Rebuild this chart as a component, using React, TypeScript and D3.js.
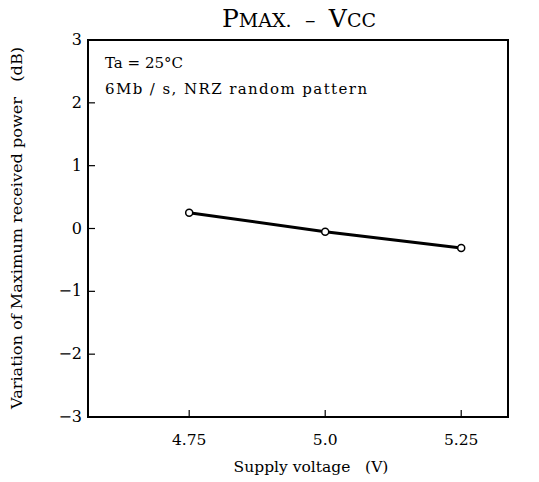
import React from "react";
import * as d3 from "d3";

const voltages = [4.75, 5.0, 5.25];
const powerVariation = [0.25, -0.05, -0.31];
const xTicks = [4.75, 5.0, 5.25];
const xTickLabels = ["4.75", "5.0", "5.25"];
const yTicks = [-3, -2, -1, 0, 1, 2, 3];

const W = 539;
const H = 482;
const M = { left: 88, right: 508, top: 40, bottom: 417 };
const FONT = "'DejaVu Serif', serif";

export default function App() {
  const x = d3.scaleLinear().domain([4.564, 5.336]).range([M.left, M.right]);
  const y = d3.scaleLinear().domain([-3, 3]).range([M.bottom, M.top]);
  const pts = voltages.map((v, i) => [x(v), y(powerVariation[i])] as [number, number]);
  const line = d3.line().curve(d3.curveMonotoneX)(pts) || "";

  return (
    <svg width={W} height={H} style={{ position: "absolute", left: 0, top: 0, background: "#fff" }}>
      <rect x={0} y={0} width={W} height={H} fill="#fff" />
      <text x={299} y={27} textAnchor="middle" fontFamily={FONT} fill="#000">
        <tspan fontSize={25}>P</tspan>
        <tspan fontSize={19}>MAX.</tspan>
        <tspan fontSize={21}>{"\u00a0\u00a0–\u00a0\u00a0"}</tspan>
        <tspan fontSize={25}>V</tspan>
        <tspan fontSize={19}>CC</tspan>
      </text>
      <rect x={M.left} y={M.top} width={M.right - M.left} height={M.bottom - M.top}
        fill="none" stroke="#000" strokeWidth={2} />
      {yTicks.map((t) => (
        <g key={t}>
          {t > -3 && t < 3 && (
            <line x1={M.left} x2={M.left + 7} y1={y(t)} y2={y(t)} stroke="#000" strokeWidth={1.2} />
          )}
          <text x={M.left - 6} y={y(t) + 5} textAnchor="end" fontFamily={FONT} fontSize={16} fill="#000">
            {t < 0 ? "−" + Math.abs(t) : String(t)}
          </text>
        </g>
      ))}
      {xTicks.map((t, i) => (
        <g key={t}>
          <line x1={x(t)} x2={x(t)} y1={M.bottom} y2={M.bottom - 7} stroke="#000" strokeWidth={1.2} />
          <text x={x(t)} y={445} textAnchor="middle" fontFamily={FONT} fontSize={15.5} fill="#000">
            {xTickLabels[i]}
          </text>
        </g>
      ))}
      <text x={311} y={472} textAnchor="middle" fontFamily={FONT} fontSize={15.5} fill="#000">
        Supply voltage{"\u00a0\u00a0\u00a0"}(V)
      </text>
      <text transform={`translate(22, 228) rotate(-90)`} textAnchor="middle" fontFamily={FONT}
        fontSize={15} fill="#000" textLength={362} lengthAdjust="spacingAndGlyphs">
        Variation of Maximum received power{"\u00a0\u00a0\u00a0"}(dB)
      </text>
      <text x={105} y={68} fontFamily={FONT} fontSize={15} fill="#000">Ta = 25°C</text>
      <text x={105} y={94} fontFamily={FONT} fontSize={15} fill="#000" letterSpacing={1.4}>
        6Mb / s, NRZ random pattern
      </text>
      <path d={line} fill="none" stroke="#000" strokeWidth={3} />
      {pts.map((p, i) => (
        <circle key={i} cx={p[0]} cy={p[1]} r={3.5} fill="#fff" stroke="#000" strokeWidth={1.5} />
      ))}
    </svg>
  );
}
